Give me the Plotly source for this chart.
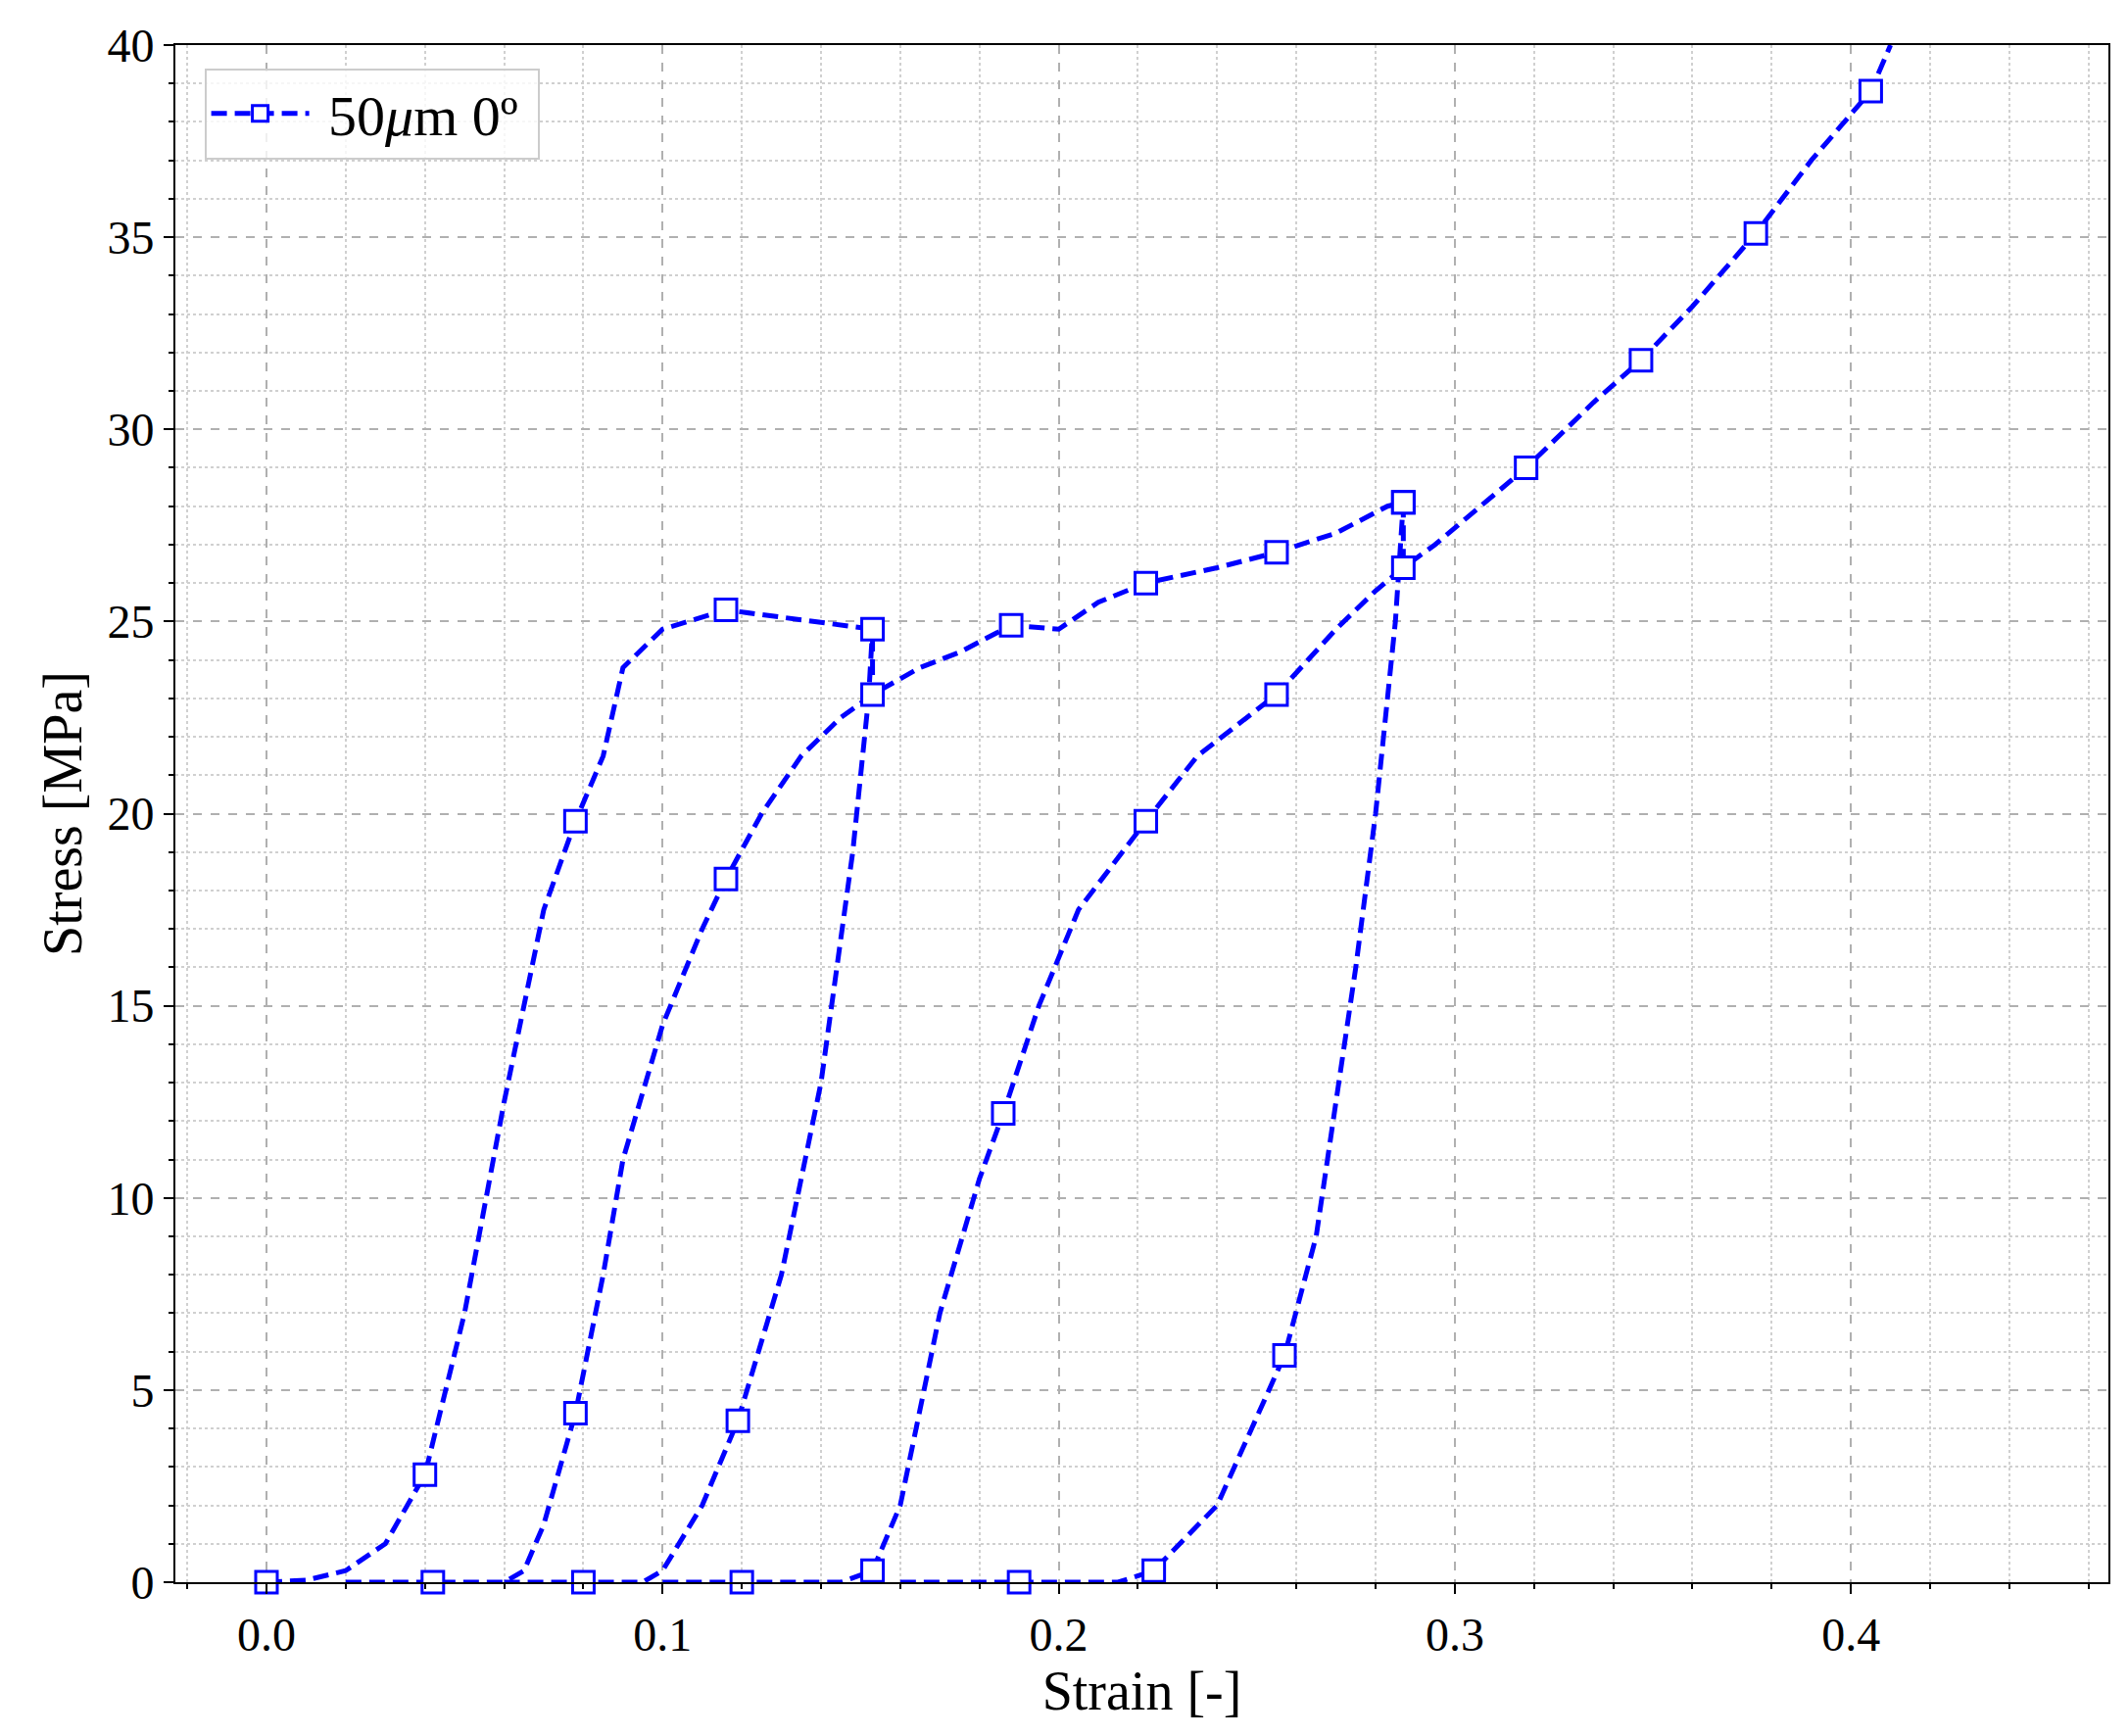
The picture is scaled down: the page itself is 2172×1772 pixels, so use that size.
import plotly.graph_objects as go

# loading curves (strain, stress MPa)
a_x = [0, 0.01, 0.02, 0.03, 0.04, 0.05, 0.06, 0.07, 0.078, 0.085, 0.09, 0.1, 0.116, 0.13, 0.145, 0.153, 0.153]
a_y = [0, 0.05, 0.3, 1.0, 2.8, 7.0, 12.5, 17.5, 19.8, 21.5, 23.8, 24.8, 25.3, 25.1, 24.9, 24.8, 23.0]
b_x = [0.02, 0.04, 0.06, 0.065, 0.07, 0.078, 0.085, 0.09, 0.1, 0.11, 0.116, 0.125, 0.135, 0.145, 0.153,
       0.165, 0.175, 0.188, 0.2, 0.21, 0.222, 0.24, 0.255, 0.27, 0.283, 0.287, 0.287]
b_y = [0, 0, 0, 0.3, 1.5, 4.4, 8.0, 11.0, 14.5, 17.0, 18.3, 20.0, 21.5, 22.5, 23.1,
       23.8, 24.2, 24.9, 24.8, 25.5, 26.0, 26.4, 26.8, 27.3, 28.0, 28.1, 26.4]
c_x = [0.06, 0.08, 0.095, 0.1, 0.11, 0.119, 0.13, 0.14, 0.148, 0.152, 0.153]
c_y = [0, 0, 0, 0.3, 2.0, 4.2, 8.0, 13.0, 19.0, 23.0, 24.8]
d_x = [0.1, 0.12, 0.145, 0.153, 0.16, 0.17, 0.18, 0.186, 0.195, 0.205, 0.222, 0.235, 0.255, 0.27, 0.28,
       0.287, 0.295, 0.318, 0.335, 0.347, 0.36, 0.376, 0.39, 0.405, 0.41]
d_y = [0, 0, 0, 0.3, 2.0, 7.0, 10.5, 12.2, 15.0, 17.5, 19.8, 21.5, 23.1, 24.8, 25.8,
       26.4, 27.0, 29.0, 30.7, 31.8, 33.2, 35.1, 37.0, 38.8, 40.0]
e_x = [0.16, 0.19, 0.215, 0.224, 0.24, 0.257, 0.265, 0.275, 0.28, 0.285, 0.287]
e_y = [0, 0, 0, 0.3, 2.0, 5.9, 9.0, 16.0, 20.0, 25.0, 28.1]

# marker positions
m_x = [0, 0.04, 0.078, 0.116, 0.153, 0.042, 0.078, 0.116, 0.153, 0.188, 0.222, 0.255, 0.287,
       0.08, 0.119, 0.12, 0.153, 0.186, 0.222, 0.255, 0.287, 0.318, 0.347, 0.376, 0.405,
       0.19, 0.224, 0.257, 0.287]
m_y = [0, 2.8, 19.8, 25.3, 24.8, 0, 4.4, 18.3, 23.1, 24.9, 26.0, 26.8, 28.1,
       0, 4.2, 0, 0.3, 12.2, 19.8, 23.1, 26.4, 29.0, 31.8, 35.1, 38.8,
       0, 0.3, 5.9, 28.1]

blue = "#0000ff"
fig = go.Figure()
for xs, ys in [(a_x, a_y), (b_x, b_y), (c_x, c_y), (d_x, d_y), (e_x, e_y)]:
    fig.add_trace(go.Scatter(x=xs, y=ys, mode="lines", showlegend=False,
                             line=dict(color=blue, width=5, dash="16px,8px")))
fig.add_trace(go.Scatter(x=m_x, y=m_y, mode="markers", showlegend=False, cliponaxis=False,
                         marker=dict(symbol="square", size=22, color="white",
                                     line=dict(color=blue, width=3))))
fig.add_trace(go.Scatter(x=[None], y=[None], mode="lines+markers", name=" 50<i>μ</i>m 0º ",
                         line=dict(color=blue, width=5, dash="16px,8px"),
                         marker=dict(symbol="square", size=22, color="white",
                                     line=dict(color=blue, width=3))))

ax = dict(showline=True, linecolor="black", linewidth=2, mirror=True,
          ticks="outside", tickwidth=2, ticklen=10, tickcolor="black",
          gridcolor="#b0b0b0", griddash="dash", gridwidth=1.5, zeroline=False,
          tickfont=dict(size=48))
fig.update_xaxes(**ax, range=[-0.023, 0.465], dtick=0.1, tickformat=".1f",
                 minor=dict(dtick=0.02, ticks="outside", ticklen=5, tickcolor="black",
                            showgrid=True, gridcolor="#d0d0d0", griddash="dot"),
                 title=dict(text="Strain [-]", font=dict(size=56), standoff=8))
fig.update_yaxes(**ax, range=[0, 40], dtick=5,
                 minor=dict(dtick=1, ticks="outside", ticklen=5, tickcolor="black",
                            showgrid=True, gridcolor="#d0d0d0", griddash="dot"),
                 title=dict(text="Stress [MPa]", font=dict(size=56), standoff=8))
fig.update_layout(width=2172, height=1772, plot_bgcolor="white", paper_bgcolor="white",
                  font=dict(family="Liberation Serif", color="black"),
                  margin=dict(l=171, r=28, t=38, b=165),
                  legend=dict(x=0.015, y=0.985, bgcolor="rgba(255,255,255,0.8)",
                              bordercolor="#cccccc", borderwidth=2, font=dict(size=58),
                              itemwidth=100, tracegroupgap=0))
fig.write_html("out.html")
